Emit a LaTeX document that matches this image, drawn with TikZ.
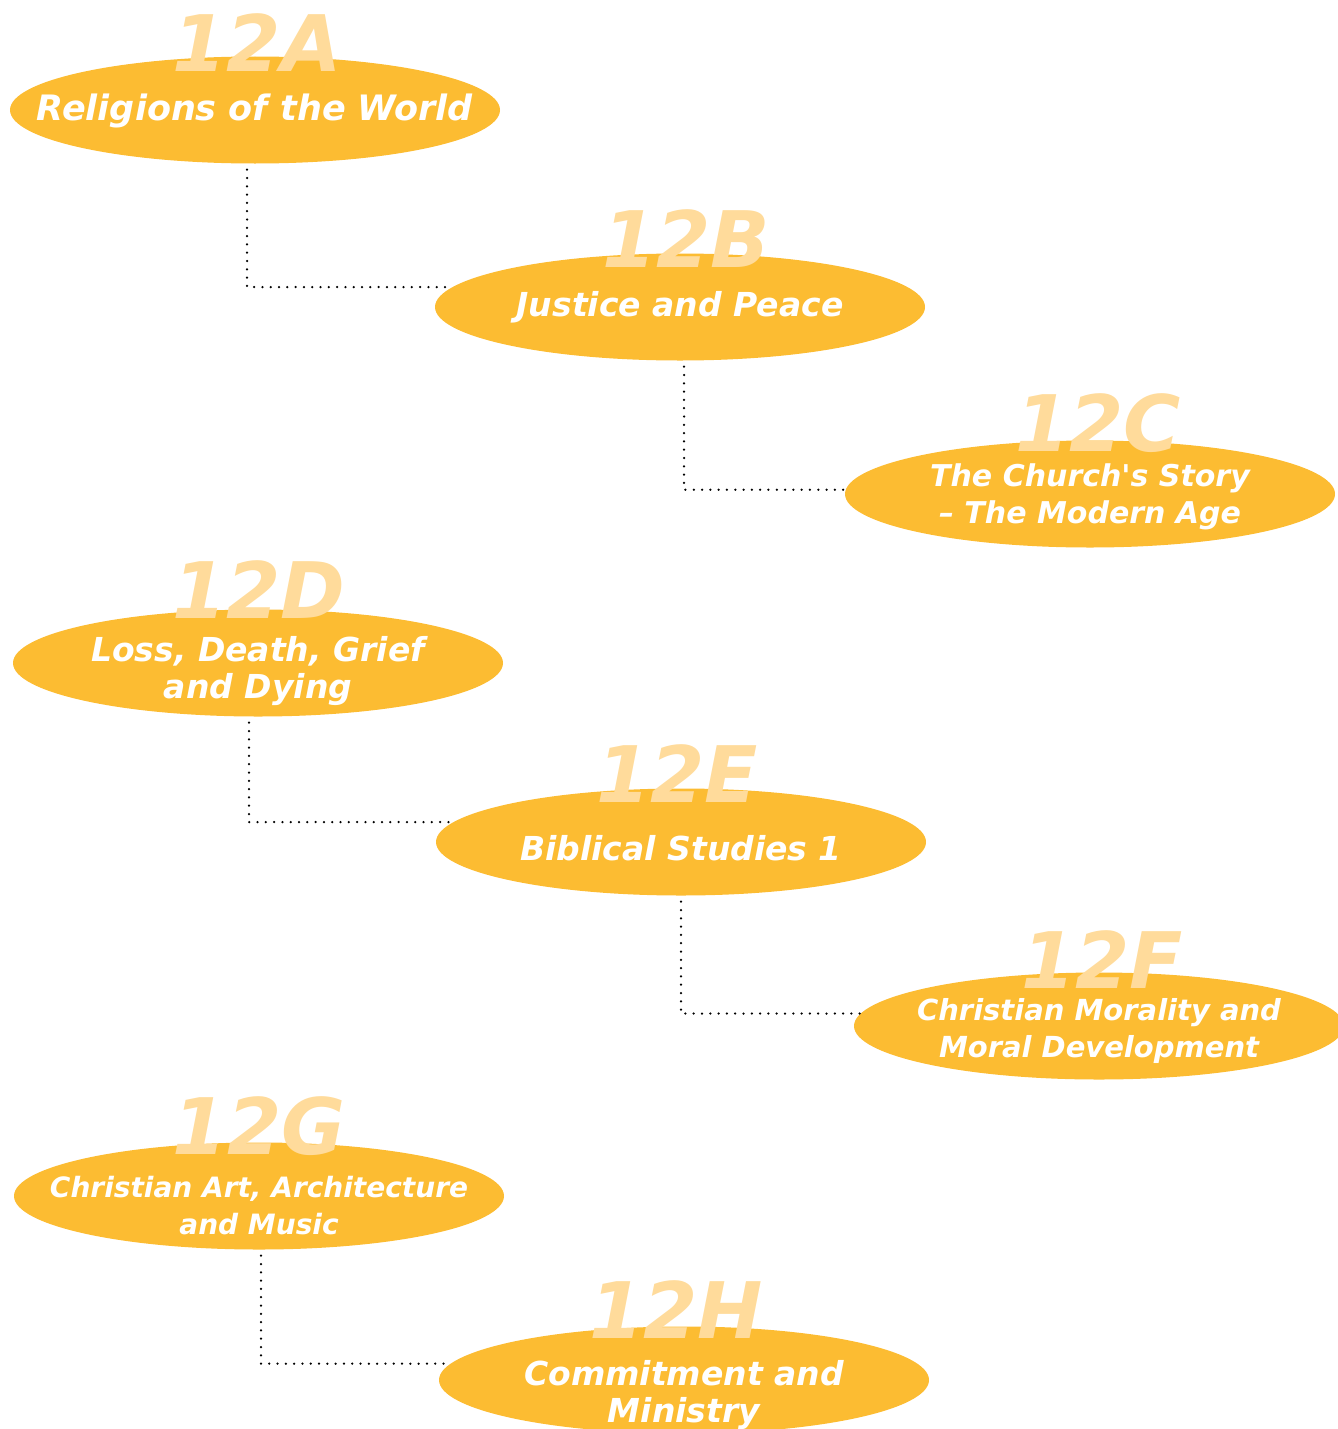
\documentclass[tikz,border=0pt]{standalone}
\usepackage{fontspec}
\setmainfont{DejaVu Sans}[BoldItalicFont={DejaVu Sans Bold Oblique}, Ligatures=TeXOff]
\usetikzlibrary{shapes.geometric}

\definecolor{courseorange}{HTML}{FCBC32}
\definecolor{codeorange}{HTML}{FFDB9B}

\newcommand{\titlesize}[1]{\fontsize{#1}{37}\selectfont\bfseries\itshape}

\tikzset{
    course/.style={ellipse, fill=courseorange, minimum width=490pt, minimum height=107pt, inner sep=0pt},
    title/.style={text=white, align=center, inner sep=0pt, font=\titlesize{33}},
    code/.style={text=codeorange, anchor=base, inner sep=0pt, font=\fontsize{78}{78}\selectfont\bfseries\itshape},
    link/.style={line width=2.5pt, line cap=round, dash pattern=on 0pt off 8.3pt}
}

\begin{document}
\begin{tikzpicture}[x=1pt, y=-1pt]
    \clip (0,0) rectangle (1338,1429);
    \useasboundingbox (0,0) rectangle (1338,1429);

    % Course ellipses with their codes
    \foreach \name/\x/\y/\dx/\dy in {A/255/110/2/15, B/680/307/6/14, C/1090/494/8/11,
                                     D/258/663/1/9, E/681/842/-4/14, F/1099/1026/3/16,
                                     G/259/1196/0/12, H/684/1380/-8/12} {
        \node[course] (\name) at (\x,\y) {};
        \node[code] (code\name) at ([xshift=\dx pt,yshift=-\dy pt]\name.north) {12\name};
    }

    % Course titles
    \node[title, font=\titlesize{35}] (titleA) at ([yshift=-1pt]A) {Religions of the World};
    \node[title] (titleB) at (B) {Justice and Peace};
    \node[title, font=\titlesize{30}] (titleC) at ([yshift=-3pt]C) {The Church's Story\\– The Modern Age};
    \node[title] (titleD) at ([yshift=-8pt]D) {Loss, Death, Grief\\and Dying};
    \node[title] (titleE) at ([yshift=-6pt]E) {Biblical Studies 1};
    \node[title, font=\titlesize{29}] (titleF) at ([yshift=-5pt]F) {Christian Morality and\\Moral Development};
    \node[title, font=\titlesize{28}] (titleG) at ([yshift=-10pt]G) {Christian Art, Architecture\\and Music};
    \node[title] (titleH) at ([yshift=-15pt]H) {Commitment and\\Ministry};

    % Connectors
    \draw[link] ([xshift=-8pt,yshift=-6pt]A.south) |- (B.175);
    \draw[link] ([xshift=4pt,yshift=-6pt]B.south) |- (C.179);
    \draw[link] ([xshift=-9pt,yshift=-6pt]D.south) |- (E.175);
    \draw[link] ([yshift=-6pt]E.south) |- (F.177);
    \draw[link] ([xshift=2pt,yshift=-6pt]G.south) |- (H.176);
\end{tikzpicture}
\end{document}
